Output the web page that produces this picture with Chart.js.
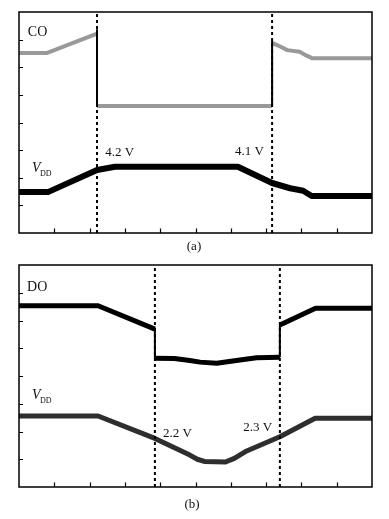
<!DOCTYPE html>
<html>
<head>
<meta charset="utf-8">
<script src="https://cdn.jsdelivr.net/npm/chart.js@4.4.0/dist/chart.umd.min.js"></script>
<style>
  html, body { margin: 0; padding: 0; background: #fff; }
  #wrap { position: relative; width: 389px; height: 519px; overflow: hidden; }
  canvas { position: absolute; left: 0; }
  .cap { position: absolute; font-family: "Liberation Serif", "DejaVu Serif", serif; font-size: 13px; color: #111; width: 40px; text-align: center; }
</style>
</head>
<body>
<div id="wrap">
  <canvas id="ca" width="389" height="255" style="top:0px;width:389px;height:255px"></canvas>
  <canvas id="cb" width="389" height="264" style="top:255px;width:389px;height:264px"></canvas>
  <div class="cap" style="left:174px;top:238px">(a)</div>
  <div class="cap" style="left:172px;top:496px">(b)</div>
</div>
<script>
// ---- axis divisions (oscilloscope grid: 10 x 8) ----
const xTicks = [1, 2, 3, 4, 5, 6, 7, 8, 9];
const yTicks = [1, 2, 3, 4, 5, 6, 7];

// ---- panel (a) ----
const cursorsA = [2.21, 7.17];
const coA1X = [0, 0.8, 2.21];
const coA1Y = [6.52, 6.52, 7.22];
const coA2X = [2.21, 7.17];
const coA2Y = [4.6, 4.6];
const coA3X = [7.17, 7.4, 7.6, 7.95, 8.15, 8.3, 10];
const coA3Y = [6.88, 6.75, 6.62, 6.56, 6.42, 6.33, 6.33];
const coEdgeAX = [2.21, 2.21, 7.17, 7.17];
const coEdgeAY = [7.35, 4.6, 6.92, 4.6];
const vddAX = [0, 0.82, 2.21, 2.72, 6.2, 7.17, 7.68, 8.05, 8.29, 10];
const vddAY = [1.48, 1.48, 2.28, 2.4, 2.4, 1.81, 1.62, 1.53, 1.34, 1.34];

// ---- panel (b) ----
const cursorsB = [3.85, 7.39];
const doB1X = [0, 2.24, 3.85];
const doB1Y = [6.53, 6.53, 5.69];
const doB2X = [3.85, 4.4, 4.84, 5.13, 5.6, 6.26, 6.73, 7.39];
const doB2Y = [4.64, 4.63, 4.56, 4.5, 4.46, 4.58, 4.66, 4.68];
const doB3X = [7.39, 8.4, 10];
const doB3Y = [5.84, 6.44, 6.44];
const doEdgeBX = [3.85, 3.85, 7.39, 7.39];
const doEdgeBY = [5.69, 4.64, 4.68, 5.84];
const vddBX = [0, 2.24, 3.85, 4.84, 5.05, 5.25, 5.85, 6.1, 6.45, 7.39, 8.39, 10];
const vddBY = [2.56, 2.56, 1.75, 1.15, 1.0, 0.92, 0.9, 1.03, 1.3, 1.81, 2.48, 2.48];

// ---- annotations ----
const labelsA = [
  { t: 'CO', x: 0.25, y: 7.28, size: 14 },
  { t: '4.2 V', x: 2.44, y: 2.9, size: 13 },
  { t: '4.1 V', x: 6.12, y: 2.93, size: 13 }
];
const vddLabelA = { x: 0.37, y: 2.35 };
const labelsB = [
  { t: 'DO', x: 0.23, y: 7.21, size: 14 },
  { t: '2.2 V', x: 4.08, y: 1.91, size: 13 },
  { t: '2.3 V', x: 6.35, y: 2.13, size: 13 }
];
const vddLabelB = { x: 0.37, y: 3.32 };

function pts(xs, ys) { return xs.map((x, i) => ({ x: x, y: ys[i] })); }
function segPairs(xs, ys) {
  // pairs of points separated by gaps (null) -> vertical edges
  const out = [];
  for (let i = 0; i < xs.length; i += 2) {
    out.push({ x: xs[i], y: ys[i] }, { x: xs[i + 1], y: ys[i + 1] });
    if (i + 2 < xs.length) out.push({ x: xs[i + 1], y: null });
  }
  return out;
}
function cursorData(xs) {
  const out = [];
  xs.forEach((x, i) => {
    out.push({ x: x, y: 0 }, { x: x, y: 8 });
    if (i < xs.length - 1) out.push({ x: x, y: null });
  });
  return out;
}
function line(data, color, width, extra) {
  return Object.assign({
    data: data, borderColor: color, borderWidth: width, pointRadius: 0,
    showLine: true, fill: false, tension: 0, spanGaps: false,
    borderJoinStyle: 'round', borderCapStyle: 'butt'
  }, extra || {});
}

const serif = '"Liberation Serif", "DejaVu Serif", serif';

function framePlugin(labels, vddLabel) {
  return {
    id: 'frame',
    afterDraw(chart) {
      const ctx = chart.ctx;
      const a = chart.chartArea;
      const xs = chart.scales.x, ys = chart.scales.y;
      ctx.save();
      ctx.strokeStyle = '#000';
      ctx.lineWidth = 1.5;
      ctx.strokeRect(a.left, a.top, a.right - a.left, a.bottom - a.top);
      ctx.lineWidth = 1.2;
      ctx.beginPath();
      xTicks.forEach(v => {
        const px = Math.round(xs.getPixelForValue(v)) + 0.5;
        ctx.moveTo(px, a.bottom); ctx.lineTo(px, a.bottom - 4.5);
      });
      yTicks.forEach(v => {
        const py = Math.round(ys.getPixelForValue(v)) + 0.5;
        ctx.moveTo(a.left, py); ctx.lineTo(a.left + 4, py);
      });
      ctx.stroke();
      ctx.fillStyle = '#111';
      ctx.textBaseline = 'middle';
      ctx.textAlign = 'left';
      labels.forEach(l => {
        ctx.font = l.size + 'px ' + serif;
        ctx.fillText(l.t, xs.getPixelForValue(l.x), ys.getPixelForValue(l.y));
      });
      const vx = xs.getPixelForValue(vddLabel.x), vy = ys.getPixelForValue(vddLabel.y);
      ctx.font = 'italic 14px ' + serif;
      ctx.fillText('V', vx, vy);
      ctx.font = '8px ' + serif;
      ctx.fillText('DD', vx + 8, vy + 6);
      ctx.restore();
    }
  };
}

function makeChart(id, datasets, pad, labels, vddLabel) {
  return new Chart(document.getElementById(id), {
    type: 'scatter',
    data: { datasets: datasets },
    options: {
      responsive: false, animation: false, maintainAspectRatio: false,
      layout: { padding: pad },
      scales: {
        x: { type: 'linear', min: 0, max: 10, display: false },
        y: { type: 'linear', min: 0, max: 8, display: false }
      },
      plugins: { legend: { display: false }, tooltip: { enabled: false } },
      events: []
    },
    plugins: [framePlugin(labels, vddLabel)]
  });
}

makeChart('ca', [
  line(cursorData(cursorsA), '#000', 2, { borderDash: [3, 3] }),
  line(segPairs(coEdgeAX, coEdgeAY), '#000', 2),
  line(pts(coA1X, coA1Y), '#999', 4),
  line(pts(coA2X, coA2Y), '#999', 4),
  line(pts(coA3X, coA3Y), '#999', 4),
  line(pts(vddAX, vddAY), '#000', 6)
], { left: 19, top: 12, right: 17, bottom: 22 }, labelsA, vddLabelA);

makeChart('cb', [
  line(cursorData(cursorsB), '#000', 2, { borderDash: [3, 3] }),
  line(segPairs(doEdgeBX, doEdgeBY), '#000', 2),
  line(pts(doB1X, doB1Y), '#000', 5),
  line(pts(doB2X, doB2Y), '#000', 5),
  line(pts(doB3X, doB3Y), '#000', 5),
  line(pts(vddBX, vddBY), '#2e2e2e', 5)
], { left: 19, top: 10, right: 17, bottom: 32 }, labelsB, vddLabelB);
</script>
</body>
</html>
